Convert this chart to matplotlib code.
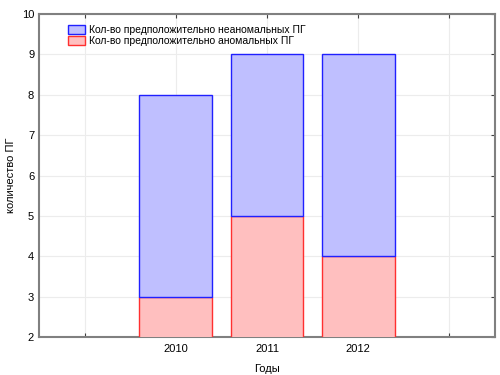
import matplotlib

matplotlib.use("Agg")
import matplotlib.pyplot as plt  # noqa: E402

# data
slots = ["", "2010", "2011", "2012", ""]
years_idx = [1, 2, 3]
anomal = [3, 5, 4]          # red, lower part
normal = [5, 4, 5]          # blue, stacked on top (totals 8, 9, 9)

plt.rcParams["font.family"] = ["Arial", "Liberation Sans", "DejaVu Sans"]

fig = plt.figure(figsize=(5, 3.75), dpi=100)
ax = fig.add_axes([0.078, 0.101, 0.912, 0.862])

ax.bar(years_idx, anomal, width=0.8, bottom=0,
       color="#ffbfbf", edgecolor="#ff3030", lw=1.0,
       label="Кол-во предположительно аномальных ПГ", zorder=3)
ax.bar(years_idx, normal, width=0.8, bottom=anomal,
       color="#bfbfff", edgecolor="#2020ff", lw=1.0,
       label="Кол-во предположительно неаномальных ПГ", zorder=3)

ax.set_xlim(-0.5, 4.5)
ax.set_ylim(2, 10)
ax.set_xticks(range(len(slots)))
ax.set_xticklabels(slots, fontsize=8)
ax.set_yticks(range(2, 11))
ax.tick_params(axis="y", labelsize=8, left=False, right=True, direction="in",
               length=3, color="#404040")
ax.tick_params(axis="x", top=True, direction="in", length=3, pad=5,
               color="#404040")

ax.grid(True, color="#ececec", lw=0.8, zorder=0)
for s in ax.spines.values():
    s.set_color("#808080")
    s.set_linewidth(1.5)

ax.set_xlabel("Годы", fontsize=8, labelpad=7)
ax.set_ylabel("количество ПГ", fontsize=8)

h, l = ax.get_legend_handles_labels()
ax.legend(h[::-1], l[::-1], loc="upper left", bbox_to_anchor=(0.05, 0.985),
          frameon=False, fontsize=7.5, handlelength=1.6, handleheight=0.9,
          borderaxespad=0.2, labelspacing=0.1, handletextpad=0.4)

fig.savefig("out.png", dpi=100)
plt.close(fig)
